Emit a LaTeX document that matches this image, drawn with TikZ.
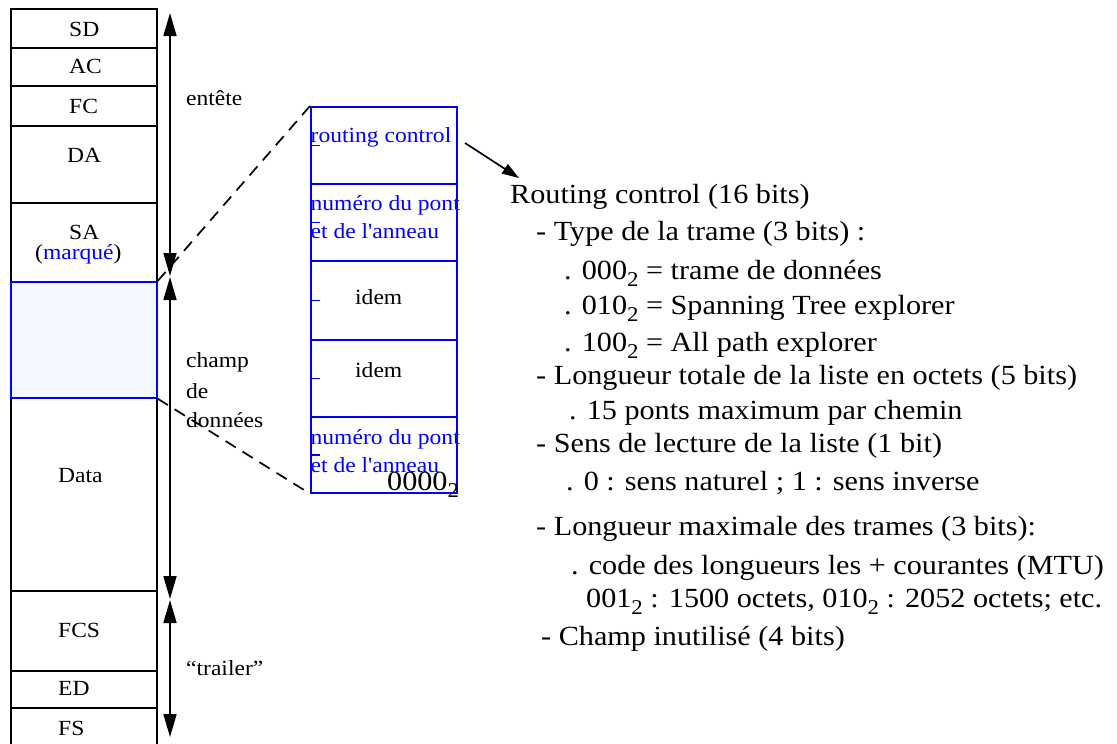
\documentclass[tikz,border=0pt]{standalone}
\usepackage{fontspec}
\setmainfont{Liberation Serif}[FakeStretch=1.09, Ligatures=TeXOff]
\usetikzlibrary{arrows.meta}
\definecolor{rifblue}{RGB}{0,0,255}
\definecolor{rifpale}{RGB}{245,247,255}
% lowered subscript used in the bit patterns
\newcommand\sbs[1]{\raisebox{-0.28em}{\fontsize{21}{21}\selectfont #1}}

\begin{document}
\begin{tikzpicture}[x=1pt,y=-1pt,
  cell/.style={draw=black, line width=1.7pt, minimum width=146pt, inner sep=0pt, anchor=north west},
  rcell/.style={draw=rifblue, line width=1.7pt, minimum width=146pt, inner sep=0pt, anchor=north west},
  lbl/.style={font=\fontsize{21.6}{24}\selectfont, inner sep=0pt, anchor=base west},
  blbl/.style={lbl, text=rifblue},
  big/.style={font=\fontsize{27.7}{30}\selectfont, inner sep=0pt, anchor=base west},
  span/.style={line width=1.7pt, {Triangle[length=23pt,width=13pt]}-{Triangle[length=23pt,width=13pt]}},
  zoomline/.style={line width=1.7pt, dash pattern=on 12pt off 8pt},
  tick/.style={draw=rifblue, line width=1.7pt},
]
\useasboundingbox (0,0) rectangle (1117,744);

% ---- frame layout (left column) ----
\node[cell, minimum height=39pt] (SD) at (10,8) {};
\node[cell, minimum height=38pt] (AC) at (10,47) {};
\node[cell, minimum height=40pt] (FC) at (10,85) {};
\node[cell, minimum height=77pt] (DA) at (10,125) {};
\node[cell, minimum height=79pt] (SA) at (10,202) {};
\node[cell, minimum height=193pt] (Data) at (10,397) {};
\node[cell, minimum height=80pt] (FCS) at (10,590) {};
\node[cell, minimum height=37pt] (ED) at (10,670) {};
\node[cell, minimum height=50pt] (FS) at (10,707) {};
\node[rcell, fill=rifpale, minimum height=116pt] (RIF) at (10,281) {};

\node[lbl] (tSD) at (69,36) {SD};
\node[lbl] (tAC) at (69,73) {AC};
\node[lbl] (tFC) at (69,113) {FC};
\node[lbl] (tDA) at (67,162) {DA};
\node[lbl] (tSA) at (69,239) {SA};
\node[lbl] (tMq) at (35,259) {(\textcolor{rifblue}{marqué})};
\node[lbl] (tData) at (58,482) {Data};
\node[lbl] (tFCS) at (58,637) {FCS};
\node[lbl] (tED) at (58,695) {ED};
\node[lbl] (tFS) at (58,735) {FS};

% ---- extent arrows ----
\coordinate (h1) at (170,13);
\coordinate (h2) at (170,276);
\coordinate (c1) at (170,277);
\coordinate (c2) at (170,599);
\coordinate (t1) at (170,600);
\coordinate (t2) at (170,737);
\draw[span] (h1) -- (h2);
\draw[span] (c1) -- (c2);
\draw[span] (t1) -- (t2);

\node[lbl] (lh) at (186,105) {entête};
\node[lbl] (lc1) at (186,367) {champ};
\node[lbl] (lc2) at (186,398) {de};
\node[lbl] (lc3) at (186,427) {données};
\node[lbl] (lt) at (186,675) {“trailer”};

% ---- routing information field (middle) ----
\node[rcell, minimum height=77pt] (rc) at (310,106) {};
\node[rcell, minimum height=77pt] (p1) at (310,183) {};
\node[rcell, minimum height=79pt] (p2) at (310,260) {};
\node[rcell, minimum height=77pt] (p3) at (310,339) {};
\node[rcell, minimum height=76pt] (p4) at (310,416) {};

\foreach \n in {rc,p1,p2,p3,p4}
  \draw[tick] (\n.west) -- ++(10,0);

\node[blbl] (trc) at (310.5,142) {routing control};
\node[blbl] (tp1a) at (310.5,210) {numéro du pont};
\node[blbl] (tp1b) at (310.5,238) {et de l'anneau};
\node[lbl] (tp2) at (355,304) {idem};
\node[lbl] (tp3) at (355,377) {idem};
\node[blbl] (tp4a) at (310.5,444) {numéro du pont};
\node[blbl] (tp4b) at (310.5,472) {et de l'anneau};
\node[big] (tz) at (387,490) {0000\sbs{2}};

% zoom lines from the field to its detail
\draw[zoomline] (RIF.north east) -- (rc.north west);
\draw[zoomline] (RIF.south east) -- (p4.south west);

% ---- routing control description ----
\node[big] (d0) at (510,203) {Routing control (16 bits)};
\node[big] (d1) at (536,240) {- Type de la trame (3 bits) :};
\node[big] (d2) at (564,279) {. 000\sbs{2} = trame de données};
\node[big] (d3) at (564,314) {. 010\sbs{2} = Spanning Tree explorer};
\node[big] (d4) at (564,351) {. 100\sbs{2} = All path explorer};
\node[big] (d5) at (536,384) {- Longueur totale de la liste en octets (5 bits)};
\node[big] (d6) at (569,419) {. 15 ponts maximum par chemin};
\node[big] (d7) at (536,452) {- Sens de lecture de la liste (1 bit)};
\node[big] (d8) at (566,490) {. 0 : sens naturel ; 1 : sens inverse};
\node[big] (d9) at (536,535) {- Longueur maximale des trames (3 bits):};
\node[big] (d10) at (571,574) {. code des longueurs les + courantes (MTU)};
\node[big] (d11) at (586,607) {001\sbs{2} : 1500 octets, 010\sbs{2} : 2052 octets; etc.};
\node[big] (d12) at (541,645) {- Champ inutilisé (4 bits)};

\coordinate (rcout) at (465,143);
\coordinate (rcin) at (519,178);
\draw[line width=1.7pt, -{Triangle[length=17pt,width=11pt]}] (rcout) -- (rcin);
\end{tikzpicture}
\end{document}
